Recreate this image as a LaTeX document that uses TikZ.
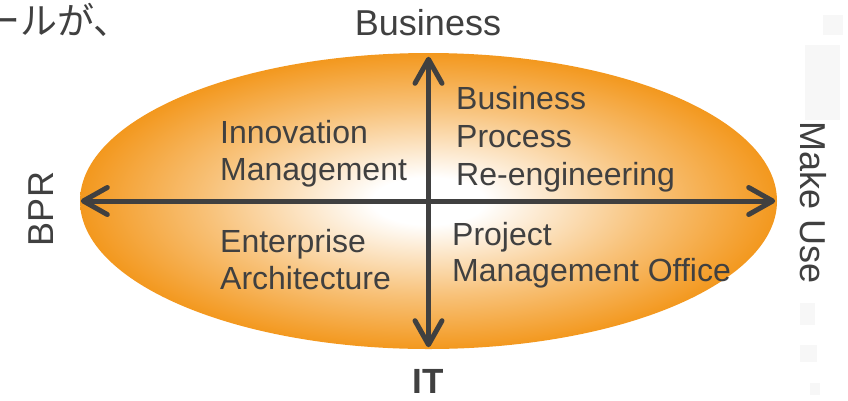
\documentclass[tikz,border=0pt]{standalone}
\usepackage{fontspec}
\setmainfont{Liberation Sans}
\newfontfamily\jpfont{Noto Sans CJK JP}
\usetikzlibrary{arrows.meta,shapes.geometric}
\definecolor{txt}{RGB}{64,64,64}
\definecolor{orng}{RGB}{243,152,30}
\colorlet{midor}{orng!60!white}
\colorlet{faint}{black!3}
\pgfdeclareradialshading{ellshade}{\pgfpoint{0bp}{0bp}}{color(0bp)=(white); color(4bp)=(white); color(16bp)=(midor); color(25bp)=(orng); color(50bp)=(orng)}
\tikzset{
  inner/.style={anchor=base west, inner sep=0pt, text=txt, font=\fontsize{32}{37}\selectfont},
  outer/.style={anchor=base, inner sep=0pt, text=txt, font=\fontsize{36}{40}\selectfont},
  axis/.style={draw=txt, line width=5pt, line cap=round,
    {Straight Barb[length=24pt,width=27pt,round]}-{Straight Barb[length=24pt,width=27pt,round]}},
  faintbox/.style={fill=faint, draw=none}
}
\begin{document}
\begin{tikzpicture}[x=1pt,y=-1pt]
\useasboundingbox (0,0) rectangle (848,400);
% faint artefacts on the right
\fill[faintbox] (823,15) rectangle (843,35);
\fill[faintbox] (805,45) rectangle (840,120);
\fill[faintbox] (800,303) rectangle (815,325);
\fill[faintbox] (800,345) rectangle (817,362);
\fill[faintbox] (810,383) rectangle (820,395);
% ellipse
\node[ellipse, minimum width=697pt, minimum height=296pt, inner sep=0pt, shading=ellshade] (E) at (428.5,201) {};
% axes
\draw[axis, shorten <=1pt, shorten >=2pt] (E.west) -- (E.east);
\draw[axis, shorten <=4pt, shorten >=2pt] (E.north) -- (E.south);
% quadrant texts
\node[inner] (im1) at (220,143.5) {Innovation};
\node[inner] (im2) at (220,180.5) {Management};
\node[inner] (bp1) at (456,109.5) {Business};
\node[inner] (bp2) at (456,147.5) {Process};
\node[inner] (bp3) at (456,185.5) {Re-engineering};
\node[inner] (ea1) at (220,252.5) {Enterprise};
\node[inner] (ea2) at (220,289.5) {Architecture};
\node[inner] (pm1) at (452,245.5) {Project};
\node[inner] (pm2) at (452,281.5) {Management Office};
% axis labels
\node[outer] (top) at (428,35) {Business};
\node[outer, font=\bfseries\fontsize{35}{40}\selectfont] (bot) at (428,393) {IT};
\node[outer, rotate=90] (left) at (53,209) {BPR};
\node[outer, rotate=-90] (right) at (800,203) {Make Use};
% cut-off Japanese text
\node[anchor=base west, inner sep=0pt, text=txt, font=\jpfont\fontsize{37}{40}\selectfont] (jp) at (-17,34) {ールが、};
\end{tikzpicture}
\end{document}
